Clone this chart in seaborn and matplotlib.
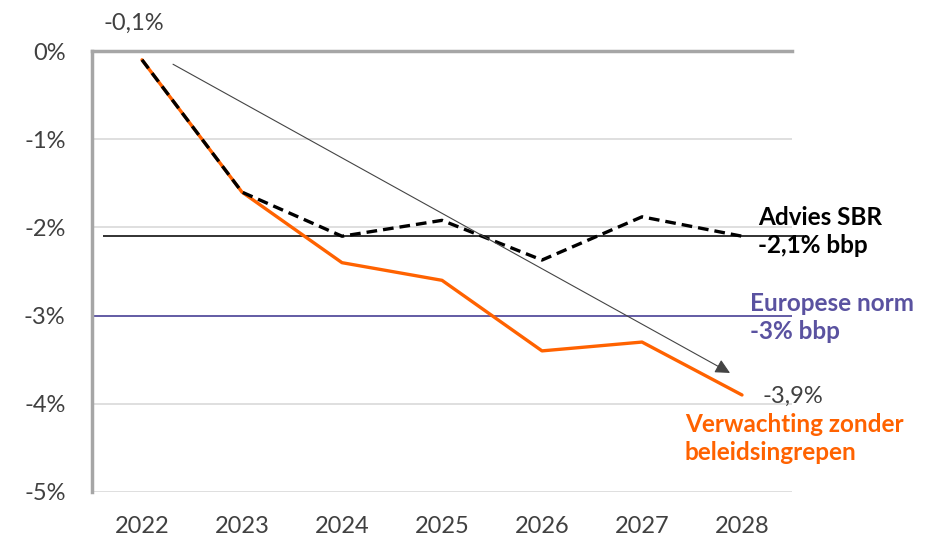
import matplotlib
matplotlib.use("Agg")
import matplotlib.pyplot as plt
import seaborn as sns
import pandas as pd

years = ["2022", "2023", "2024", "2025", "2026", "2027", "2028"]
no_policy = [-0.1, -1.6, -2.4, -2.6, -3.4, -3.3, -3.9]
sbr_advice = [-0.1, -1.6, -2.1, -1.92, -2.37, -1.88, -2.1]
sbr_norm = -2.1
eu_norm = -3.0
y_ticks = [0, -1, -2, -3, -4, -5]
y_tick_labels = ["0%", "-1%", "-2%", "-3%", "-4%", "-5%"]

sns.set_theme(style="white")
plt.rcParams['font.family'] = ['Lato', 'DejaVu Sans']

ORANGE = "#FF6200"
BLUE = "#5A52A0"
GRAY_TXT = "#404040"

df = pd.DataFrame({"x": list(range(len(years))), "year": years,
                   "no_policy": no_policy, "sbr": sbr_advice})

fig = plt.figure(figsize=(9.25, 5.4), dpi=100)
ax = fig.add_axes([92/925, 1-492/540, (792-92)/925, (492-51)/540])

ax.set_xlim(-0.5, 6.5)
ax.set_ylim(-5, 0)

# gridlines
for t in y_ticks[1:]:
    ax.axhline(t, color="#D9D9D9", lw=1.2, zorder=0)

sns.lineplot(data=df, x="x", y="no_policy", ax=ax, color=ORANGE, lw=2.4, zorder=3)
sns.lineplot(data=df, x="x", y="sbr", ax=ax, color="black", lw=2.4, zorder=4)
ax.lines[-1].set_dashes([3.2, 1.8])

# reference lines
ax.hlines(sbr_norm, -0.39, 6.62, color="#222222", lw=1.3, zorder=2, clip_on=False)
ax.hlines(eu_norm, -0.5, 6.5, color=BLUE, lw=1.3, zorder=2)

# trend arrow
ax.annotate("", xy=(5.88, -3.65), xytext=(0.31, -0.15),
            arrowprops=dict(arrowstyle="-|>", color="#444444", lw=0.8,
                            mutation_scale=22, shrinkA=0, shrinkB=0),
            zorder=5)

# spines
for s in ["right", "bottom"]:
    ax.spines[s].set_visible(False)
ax.spines["left"].set_color("#A6A6A6")
ax.spines["left"].set_linewidth(2.5)
ax.spines["top"].set_color("#A6A6A6")
ax.spines["top"].set_linewidth(2.5)

ax.set_xticks(range(len(years)))
ax.set_xticklabels(years)
ax.set_yticks(y_ticks)
ax.set_yticklabels(y_tick_labels)
ax.tick_params(axis="both", length=0, labelsize=17, colors=GRAY_TXT)
ax.tick_params(axis="x", pad=17)
ax.tick_params(axis="y", pad=19)
ax.set_xlabel("")
ax.set_ylabel("")

# labels
ax.text(-0.08, 0.2, "-0,1%", ha="center", va="bottom", fontsize=17, color=GRAY_TXT, clip_on=False)
ax.text(6.2, -3.92, "-3,9%", ha="left", va="center", fontsize=17, color=GRAY_TXT, clip_on=False)

lab_font = ['Lato', 'DejaVu Sans']
ax.text(6.16, -2.05, "Advies SBR\n-2,1% bbp", ha="left", va="center", fontsize=17.5,
        fontweight="bold", color="black", family=lab_font, linespacing=1.25, clip_on=False)
ax.text(6.08, -3.02, "Europese norm\n-3% bbp", ha="left", va="center", fontsize=17.5,
        fontweight="bold", color=BLUE, family=lab_font, linespacing=1.25, clip_on=False)
ax.text(5.43, -4.39, "Verwachting zonder\nbeleidsingrepen", ha="left", va="center", fontsize=17.5,
        fontweight="bold", color=ORANGE, family=lab_font, linespacing=1.25, clip_on=False)

fig.savefig("out.png", dpi=100)
